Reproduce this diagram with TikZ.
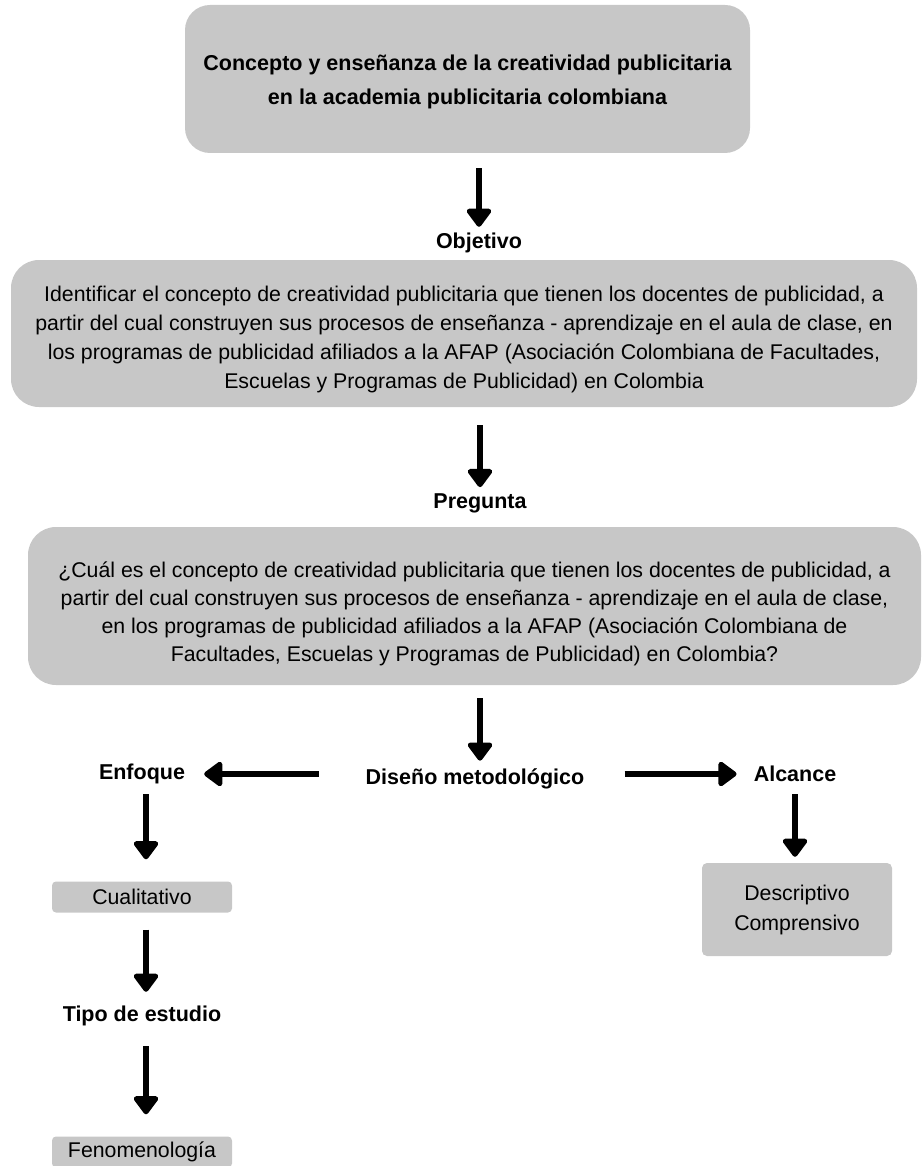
\documentclass[tikz,border=0pt]{standalone}
\usepackage{fontspec}
\setmainfont{Liberation Sans}
\usetikzlibrary{arrows.meta}
\definecolor{boxgray}{RGB}{199,199,199}
\tikzset{
  panel/.style={fill=boxgray, draw=none, align=center, inner sep=0pt},
  paneltext/.style={align=center, inner sep=0pt},
  head/.style={font=\fontsize{21.5}{26}\selectfont\bfseries, inner sep=0pt},
  body/.style={font=\fontsize{21.3}{29}\selectfont},
  flow/.style={line width=6pt, -{Triangle[width=28pt,length=20pt,round]}},
}
\begin{document}
\begin{tikzpicture}[x=1pt,y=-1pt]
  \useasboundingbox (0,0) rectangle (922,1166);

  % title block
  \node[panel, rounded corners=25pt, minimum width=565pt, minimum height=148pt] (title) at (467.5,79) {};
  \node[paneltext, font=\fontsize{21.5}{34}\selectfont\bfseries] (titletext) at ([yshift=-2.5pt]title.center)
    {Concepto y enseñanza de la creatividad publicitaria\\
     en la academia publicitaria colombiana};

  % objective
  \node[head] (obj) at (479,243) {Objetivo};
  \node[panel, rounded corners=28pt, minimum width=906pt, minimum height=147pt] (objbox) at (464,333.5) {};
  \node[paneltext, body] (objtext) at ([yshift=-6pt]objbox.center)
    {Identificar el concepto de creatividad publicitaria que tienen los docentes de publicidad, a\\
     partir del cual construyen sus procesos de enseñanza - aprendizaje en el aula de clase, en\\
     los programas de publicidad afiliados a la AFAP (Asociación Colombiana de Facultades,\\
     Escuelas y Programas de Publicidad) en Colombia};

  % research question
  \node[head] (preg) at (480,503) {Pregunta};
  \node[panel, rounded corners=28pt, minimum width=893pt, minimum height=158pt] (pregbox) at (474.5,606) {};
  \node[paneltext, font=\fontsize{21.3}{28}\selectfont] (pregtext) at ([yshift=-8pt]pregbox.center)
    {¿Cuál es el concepto de creatividad publicitaria que tienen los docentes de publicidad, a\\
     partir del cual construyen sus procesos de enseñanza - aprendizaje en el aula de clase,\\
     en los programas de publicidad afiliados a la AFAP (Asociación Colombiana de\\
     Facultades, Escuelas y Programas de Publicidad) en Colombia?};

  % methodological design
  \node[head] (dis) at (475,779) {Diseño metodológico};
  \node[head] (enf) at (142,774) {Enfoque};
  \node[head] (alc) at (795,774) {Alcance};

  \node[panel, body, rounded corners=4pt, minimum width=180pt, minimum height=31pt] (cual) at (142,897) {Cualitativo};
  \node[head] (tipo) at (142,1016) {Tipo de estudio};
  \node[panel, body, rounded corners=4pt, minimum width=180pt, minimum height=31pt] (feno) at (142,1152) {Fenomenología};

  \node[panel, font=\fontsize{21.3}{30}\selectfont, rounded corners=5pt, minimum width=190pt, minimum height=93pt] (desc) at (797,909.5)
    {Descriptivo\\Comprensivo};

  % connectors
  \draw[flow, shorten <=15pt, shorten >=6pt] (obj |- title.south) -- (obj.north);
  \draw[flow, shorten <=18pt, shorten >=6pt] (preg |- objbox.south) -- (preg.north);
  \draw[flow, shorten <=13pt, shorten >=8pt] (480,0 |- pregbox.south) -- (480,0 |- dis.north);
  \draw[flow, shorten <=47pt, shorten >=19pt] (dis.west |- enf) -- (enf.east);
  \draw[flow, shorten <=40pt, shorten >=17pt] (dis.east |- alc) -- (alc.west);
  \draw[flow, shorten <=10pt, shorten >=22pt] (enf.south -| 146,0) -- (146,0 |- cual.north);
  \draw[flow, shorten <=17pt, shorten >=14pt] (cual.south -| 146,0) -- (146,0 |- tipo.north);
  \draw[flow, shorten <=20pt, shorten >=22pt] (tipo.south -| 146,0) -- (146,0 |- feno.north);
  \draw[flow, shorten <=12pt, shorten >=6pt] (alc.south) -- (alc |- desc.north);
\end{tikzpicture}
\end{document}
